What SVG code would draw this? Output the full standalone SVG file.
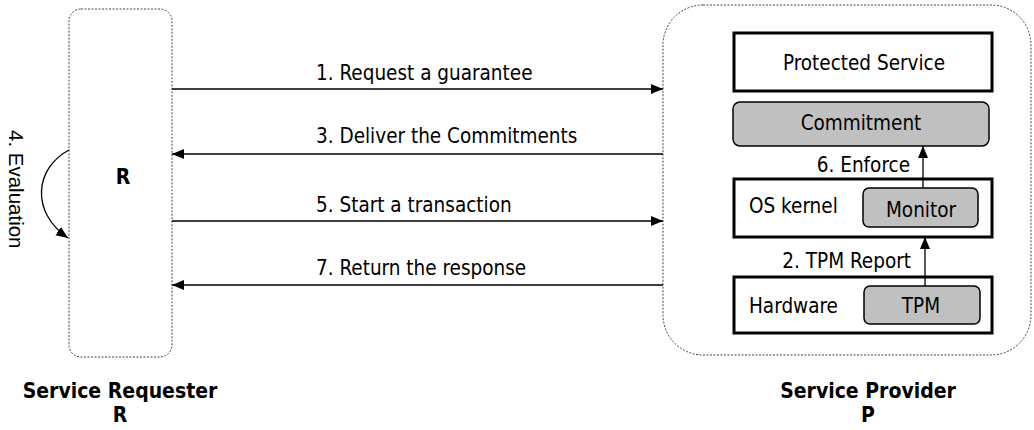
<svg xmlns="http://www.w3.org/2000/svg" width="1034" height="430" viewBox="0 0 1034 430">
  <style>
    .lbl { font-family: "DejaVu Sans Condensed", "DejaVu Sans", sans-serif; font-stretch: condensed; font-size: 20.5px; fill: #000; }
    .bold { font-weight: bold; font-size: 21px; }
    .mid { text-anchor: middle; }
    .end { text-anchor: end; }
    .zone { fill: #fff; stroke: #444; stroke-width: 1; stroke-dasharray: 2 1.5; }
    .layer { fill: #fff; stroke: #000; stroke-width: 3; }
    .part { fill: #c0c0c0; stroke: #000; stroke-width: 1.5; }
    .flow { fill: none; stroke: #000; stroke-width: 1.3; marker-end: url(#head); }
  </style>
  <defs>
    <marker id="head" viewBox="0 0 12 10" refX="12" refY="5" markerWidth="12" markerHeight="10" markerUnits="userSpaceOnUse" orient="auto">
      <path d="M0,0 L12,5 L0,10 Z" fill="#000"/>
    </marker>
  </defs>

  <rect width="1034" height="430" fill="#fff"/>

  <!-- Service requester -->
  <g id="requester">
    <rect class="zone" x="69" y="9" width="103" height="348" rx="12"/>
    <text class="lbl bold mid" x="123" y="184">R</text>
    <text class="lbl bold mid" x="120" y="398">Service Requester</text>
    <text class="lbl bold mid" x="120" y="422">R</text>
  </g>

  <!-- Service provider -->
  <g id="provider">
    <rect class="zone" x="663" y="5" width="368" height="350" rx="40"/>
    <text class="lbl bold mid" x="868" y="398">Service Provider</text>
    <text class="lbl bold mid" x="868" y="422">P</text>
  </g>

  <g id="protected-service">
    <rect class="layer" x="734" y="33" width="258" height="58"/>
    <text class="lbl mid" x="864" y="70">Protected Service</text>
  </g>

  <g id="commitment">
    <rect class="part" x="733" y="102" width="256" height="44" rx="7"/>
    <text class="lbl mid" x="861" y="130">Commitment</text>
  </g>

  <g id="os-kernel">
    <rect class="layer" x="734" y="179" width="258" height="58"/>
    <text class="lbl" x="749" y="213">OS kernel</text>
  </g>

  <g id="monitor">
    <rect class="part" x="863" y="188" width="115" height="39" rx="6"/>
    <text class="lbl mid" x="921" y="217">Monitor</text>
  </g>

  <g id="hardware">
    <rect class="layer" x="734" y="277" width="258" height="56"/>
    <text class="lbl" x="749" y="313">Hardware</text>
  </g>

  <g id="tpm">
    <rect class="part" x="864" y="286" width="116" height="38" rx="6"/>
    <text class="lbl mid" x="921" y="313">TPM</text>
  </g>

  <!-- Message flows -->
  <g id="connectors">
    <line class="flow" x1="172" y1="89" x2="663" y2="89"/>
    <line class="flow" x1="663" y1="154" x2="172" y2="154"/>
    <line class="flow" x1="172" y1="221" x2="663" y2="221"/>
    <line class="flow" x1="663" y1="285" x2="172" y2="285"/>
    <line class="flow" x1="923" y1="188" x2="923" y2="146"/>
    <line class="flow" x1="925" y1="286" x2="925" y2="237"/>
    <path class="flow" d="M69,150 C35,168 30,212 68,238"/>

    <text class="lbl" x="316" y="80">1. Request a guarantee</text>
    <text class="lbl" x="316" y="143">3. Deliver the Commitments</text>
    <text class="lbl" x="316" y="212">5. Start a transaction</text>
    <text class="lbl" x="316" y="275">7. Return the response</text>
    <text class="lbl end" x="910" y="172">6. Enforce</text>
    <text class="lbl end" x="911" y="268">2. TPM Report</text>
    <text font-family="Liberation Sans, Arial, sans-serif" font-size="20.5" transform="translate(9,130) rotate(90)">4. Evaluation</text>
  </g>
</svg>
